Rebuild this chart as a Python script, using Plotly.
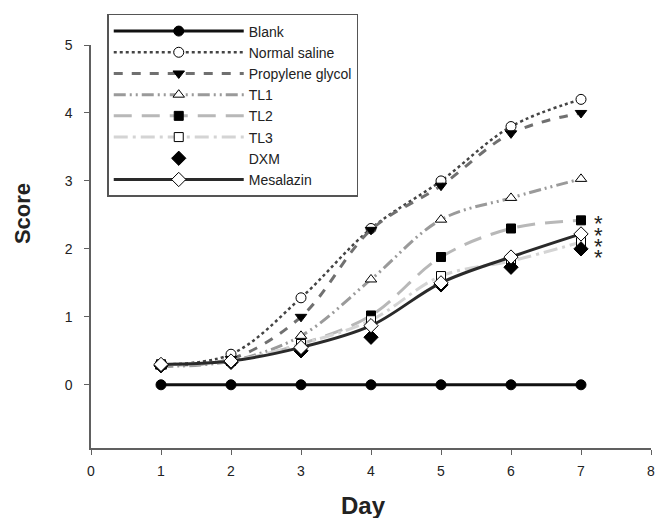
import plotly.graph_objects as go

days = [1, 2, 3, 4, 5, 6, 7]
blank = [0, 0, 0, 0, 0, 0, 0]
normal_saline = [0.30, 0.45, 1.28, 2.30, 3.00, 3.80, 4.20]
propylene_glycol = [0.30, 0.38, 1.00, 2.28, 2.93, 3.70, 4.00]
tl1 = [0.27, 0.35, 0.72, 1.55, 2.43, 2.75, 3.03]
tl2 = [0.30, 0.35, 0.60, 1.02, 1.88, 2.30, 2.42]
tl3 = [0.30, 0.35, 0.60, 0.95, 1.60, 1.82, 2.10]
dxm = [0.28, 0.33, 0.50, 0.70, 1.47, 1.73, 2.00]
mesalazin = [0.30, 0.35, 0.55, 0.87, 1.50, 1.88, 2.22]

star_x = 7.25
star_y = [2.49, 2.31, 2.15, 1.99]

series = [
    ("Blank", blank, dict(color="#111111", width=3, dash="solid"),
     dict(symbol="circle", size=10, color="#000000", line=dict(color="#000000", width=1)), "lines+markers"),
    ("Normal saline", normal_saline, dict(color="#444444", width=2.5, dash="dot"),
     dict(symbol="circle", size=10, color="#ffffff", line=dict(color="#000000", width=1)), "lines+markers"),
    ("Propylene glycol", propylene_glycol, dict(color="#707070", width=3, dash="dash"),
     dict(symbol="triangle-down", size=10, color="#000000", line=dict(color="#000000", width=1)), "lines+markers"),
    ("TL1", tl1, dict(color="#9a9a9a", width=3, dash="12px,4px,2px,4px,2px,4px"),
     dict(symbol="triangle-up", size=10, color="#ffffff", line=dict(color="#000000", width=1)), "lines+markers"),
    ("TL2", tl2, dict(color="#b8b8b8", width=3, dash="18px,10px"),
     dict(symbol="square", size=9, color="#000000", line=dict(color="#000000", width=1)), "lines+markers"),
    ("TL3", tl3, dict(color="#d4d4d4", width=3, dash="14px,5px,3px,5px"),
     dict(symbol="square", size=9, color="#ffffff", line=dict(color="#000000", width=1)), "lines+markers"),
    ("DXM", dxm, None,
     dict(symbol="diamond", size=11, color="#000000", line=dict(color="#000000", width=1)), "markers"),
    ("Mesalazin", mesalazin, dict(color="#2a2a2a", width=3, dash="solid"),
     dict(symbol="diamond", size=11, color="#ffffff", line=dict(color="#000000", width=1)), "lines+markers"),
]

fig = go.Figure()
for name, vals, line, marker, mode in series:
    kw = dict(x=days, y=vals, name=name, mode=mode, marker=marker)
    if line is not None:
        kw["line"] = dict(shape="spline", smoothing=1, **line)
    fig.add_trace(go.Scatter(**kw))

for sy in star_y:
    fig.add_annotation(x=star_x, y=sy, text="*", showarrow=False,
                       font=dict(size=22, color="#222222", family="Liberation Sans"),
                       xanchor="center", yanchor="middle", yshift=-8)

fig.add_annotation(xref="paper", yref="paper", x=-0.121, y=0.581, text="Score",
                   textangle=-90, showarrow=False, xanchor="center", yanchor="middle",
                   font=dict(size=22, weight="bold", color="#222222", family="Liberation Sans"))
fig.add_annotation(xref="paper", yref="paper", x=0.486, y=-0.142, text="Day",
                   showarrow=False, xanchor="center", yanchor="middle",
                   font=dict(size=24, weight="bold", color="#222222", family="Liberation Sans"))

axis_common = dict(showline=True, linecolor="#606060", linewidth=1.5, ticks="outside",
                   ticklen=5, tickcolor="#606060", showgrid=False, zeroline=False,
                   tickfont=dict(size=14, color="#222222", family="Liberation Sans"))

fig.update_layout(
    width=656, height=518,
    margin=dict(l=91, r=5, t=45, b=70, autoexpand=False),
    paper_bgcolor="white", plot_bgcolor="white",
    font=dict(family="Liberation Sans", color="#222222"),
    xaxis=dict(range=[0, 8], tickvals=list(range(0, 9)), ticklabelstandoff=4, **axis_common),
    yaxis=dict(range=[-0.93, 5], tickvals=[0, 1, 2, 3, 4, 5], ticklabelstandoff=9, **axis_common),
    legend=dict(x=0.029, y=1.077, xanchor="left", yanchor="top", bgcolor="white",
                bordercolor="#555555", borderwidth=1.5, itemwidth=130,
                font=dict(size=14, color="#222222"), tracegroupgap=0),
    showlegend=True,
)
fig.write_html("out.html", config={"displayModeBar": False},
               post_script="document.body.style.margin='0';")
